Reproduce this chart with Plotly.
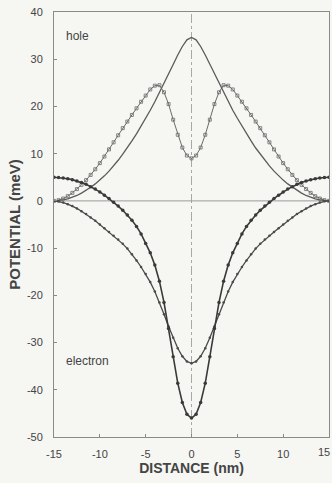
import plotly.graph_objects as go

distance = [-15, -14.5, -14, -13.5, -13, -12.5, -12, -11.5, -11, -10.5, -10, -9.5, -9, -8.5, -8, -7.5, -7, -6.5, -6, -5.5, -5, -4.5, -4, -3.5, -3, -2.5, -2, -1.5, -1, -0.5,
            0, 0.5, 1, 1.5, 2, 2.5, 3, 3.5, 4, 4.5, 5, 5.5, 6, 6.5, 7, 7.5, 8, 8.5, 9, 9.5, 10, 10.5, 11, 11.5, 12, 12.5, 13, 13.5, 14, 14.5, 15]

hole_peak = [0, 0.05, 0.2, 0.45, 0.75, 1.15, 1.65, 2.2, 2.9, 3.6, 4.4, 5.3, 6.3, 7.4, 8.6, 9.9, 11.2, 12.7, 14.2, 15.8, 17.5, 19.2, 21.0, 22.9, 24.9, 26.9, 28.9, 30.9, 32.7, 34.1,
             34.6, 34.1, 32.7, 30.9, 28.9, 26.9, 24.9, 22.9, 21.0, 19.2, 17.5, 15.8, 14.2, 12.7, 11.2, 9.9, 8.6, 7.4, 6.3, 5.3, 4.4, 3.6, 2.9, 2.2, 1.65, 1.15, 0.75, 0.45, 0.2, 0.05, 0]

hole_hump = [0, 0.15, 0.5, 1.0, 1.7, 2.5, 3.4, 4.4, 5.5, 6.7, 8.0, 9.4, 10.9, 12.4, 13.9, 15.4, 16.8, 18.2, 19.6, 21.0, 22.3, 23.6, 24.4, 24.5, 23.0, 20.5, 17.2, 14.0, 11.3, 9.6,
             9.0, 9.6, 11.3, 14.0, 17.2, 20.5, 23.0, 24.5, 24.4, 23.6, 22.3, 21.0, 19.6, 18.2, 16.8, 15.4, 13.9, 12.4, 10.9, 9.4, 8.0, 6.7, 5.5, 4.4, 3.4, 2.5, 1.7, 1.0, 0.5, 0.15, 0]

electron_deep = [5.0, 4.95, 4.85, 4.7, 4.5, 4.2, 3.9, 3.5, 3.0, 2.5, 1.9, 1.2, 0.5, -0.3, -1.1, -2.0, -3.0, -4.1, -5.4, -7.0, -9.0, -11.0, -13.6, -17.0, -21.5, -27.0, -33.0, -38.6, -42.7, -45.2,
                 -46.0, -45.2, -42.7, -38.6, -33.0, -27.0, -21.5, -17.0, -13.6, -11.0, -9.0, -7.0, -5.4, -4.1, -3.0, -2.0, -1.1, -0.3, 0.5, 1.2, 1.9, 2.5, 3.0, 3.5, 3.9, 4.2, 4.5, 4.7, 4.85, 4.95, 5.0]

electron_shallow = [0, -0.1, -0.35, -0.7, -1.1, -1.6, -2.2, -2.8, -3.5, -4.2, -5.0, -5.8, -6.6, -7.4, -8.2, -9.1, -10.1, -11.3, -12.6, -14.0, -15.5, -17.2, -19.2, -21.5, -24.0, -26.6, -29.0, -31.2, -32.9, -34.0,
                    -34.4, -34.0, -32.9, -31.2, -29.0, -26.6, -24.0, -21.5, -19.2, -17.2, -15.5, -14.0, -12.6, -11.3, -10.1, -9.1, -8.2, -7.4, -6.6, -5.8, -5.0, -4.2, -3.5, -2.8, -2.2, -1.6, -1.1, -0.7, -0.35, -0.1, 0]

x_ticks = [-15, -10, -5, 0, 5, 10, 15]
x_ticktext = ["-15", "-10", "-5", "0", "5", "10", "15"]
y_ticks = [-50, -40, -30, -20, -10, 0, 10, 20, 30, 40]
y_ticktext = ["-50", "-40", "-30", "-20", "-10", "0", "10", "20", "30", "40"]

LINE = "#4a4a4a"
FONT = "Liberation Sans"

fig = go.Figure()

fig.add_shape(type="line", x0=0, x1=0, y0=-50, y1=40, xref="x", yref="y",
              line=dict(color="#a8a8a8", width=1, dash="dashdot"), layer="below")
fig.add_shape(type="line", x0=-15, x1=15, y0=0, y1=0, xref="x", yref="y",
              line=dict(color="#9a9a9a", width=1), layer="below")

fig.add_trace(go.Scatter(x=distance, y=hole_hump, mode="lines+markers",
                         line=dict(color="#6a6a6a", width=1),
                         marker=dict(symbol="square-open", size=3, color="#6a6a6a", line=dict(width=0.8)),
                         showlegend=False))
fig.add_trace(go.Scatter(x=distance, y=hole_peak, mode="lines",
                         line=dict(color="#5a5a5a", width=1.3),
                         showlegend=False))
fig.add_trace(go.Scatter(x=distance, y=electron_shallow, mode="lines+markers",
                         line=dict(color=LINE, width=1.3),
                         marker=dict(symbol="circle", size=2.5, color=LINE),
                         showlegend=False))
fig.add_trace(go.Scatter(x=distance, y=electron_deep, mode="lines+markers",
                         line=dict(color="#3a3a3a", width=1.6),
                         marker=dict(symbol="circle", size=3.5, color="#3a3a3a"),
                         showlegend=False))

fig.add_annotation(x=-13.9, y=35, text="hole", showarrow=False, xanchor="left",
                   font=dict(family=FONT, size=12, color="#444"))
fig.add_annotation(x=-13.9, y=-34, text="electron", showarrow=False, xanchor="left",
                   font=dict(family=FONT, size=12, color="#444"))

# last x tick label sits at the right edge of the figure: draw it right-aligned so it stays visible
shown_xtext = x_ticktext[:-1] + [""]
fig.add_annotation(xref="paper", yref="paper", x=1, y=0, xshift=3, yshift=-7,
                   xanchor="right", yanchor="top", text=x_ticktext[-1], showarrow=False,
                   font=dict(family=FONT, size=11, color="#444"))

fig.update_layout(
    width=332, height=483,
    margin=dict(l=54, r=3, t=12, b=46),
    paper_bgcolor="#f6f6f3", plot_bgcolor="#f6f6f3",
    font=dict(family=FONT, size=11, color="#444"),
    xaxis=dict(range=[-15, 15], tickvals=x_ticks, ticktext=shown_xtext,
               ticks="inside", ticklen=3, tickcolor="#888", showgrid=False, zeroline=False,
               showline=True, linecolor="#8a8a8a", linewidth=1, mirror=True,
               tickfont=dict(size=11, color="#444"), ticklabelstandoff=7,
               ticklabeloverflow="allow", automargin=False,
               title=dict(text="<b>DISTANCE (nm)</b>", font=dict(size=14, color="#444"), standoff=2)),
    yaxis=dict(range=[-50, 40], tickvals=y_ticks, ticktext=y_ticktext,
               ticks="inside", ticklen=3, tickcolor="#888", showgrid=False, zeroline=False,
               showline=True, linecolor="#8a8a8a", linewidth=1, mirror=True,
               tickfont=dict(size=11, color="#444"), ticklabelstandoff=8, automargin=False,
               title=dict(text="<b>POTENTIAL (meV)</b>", font=dict(size=15, color="#444"), standoff=2)),
)

fig.write_html("out.html")
